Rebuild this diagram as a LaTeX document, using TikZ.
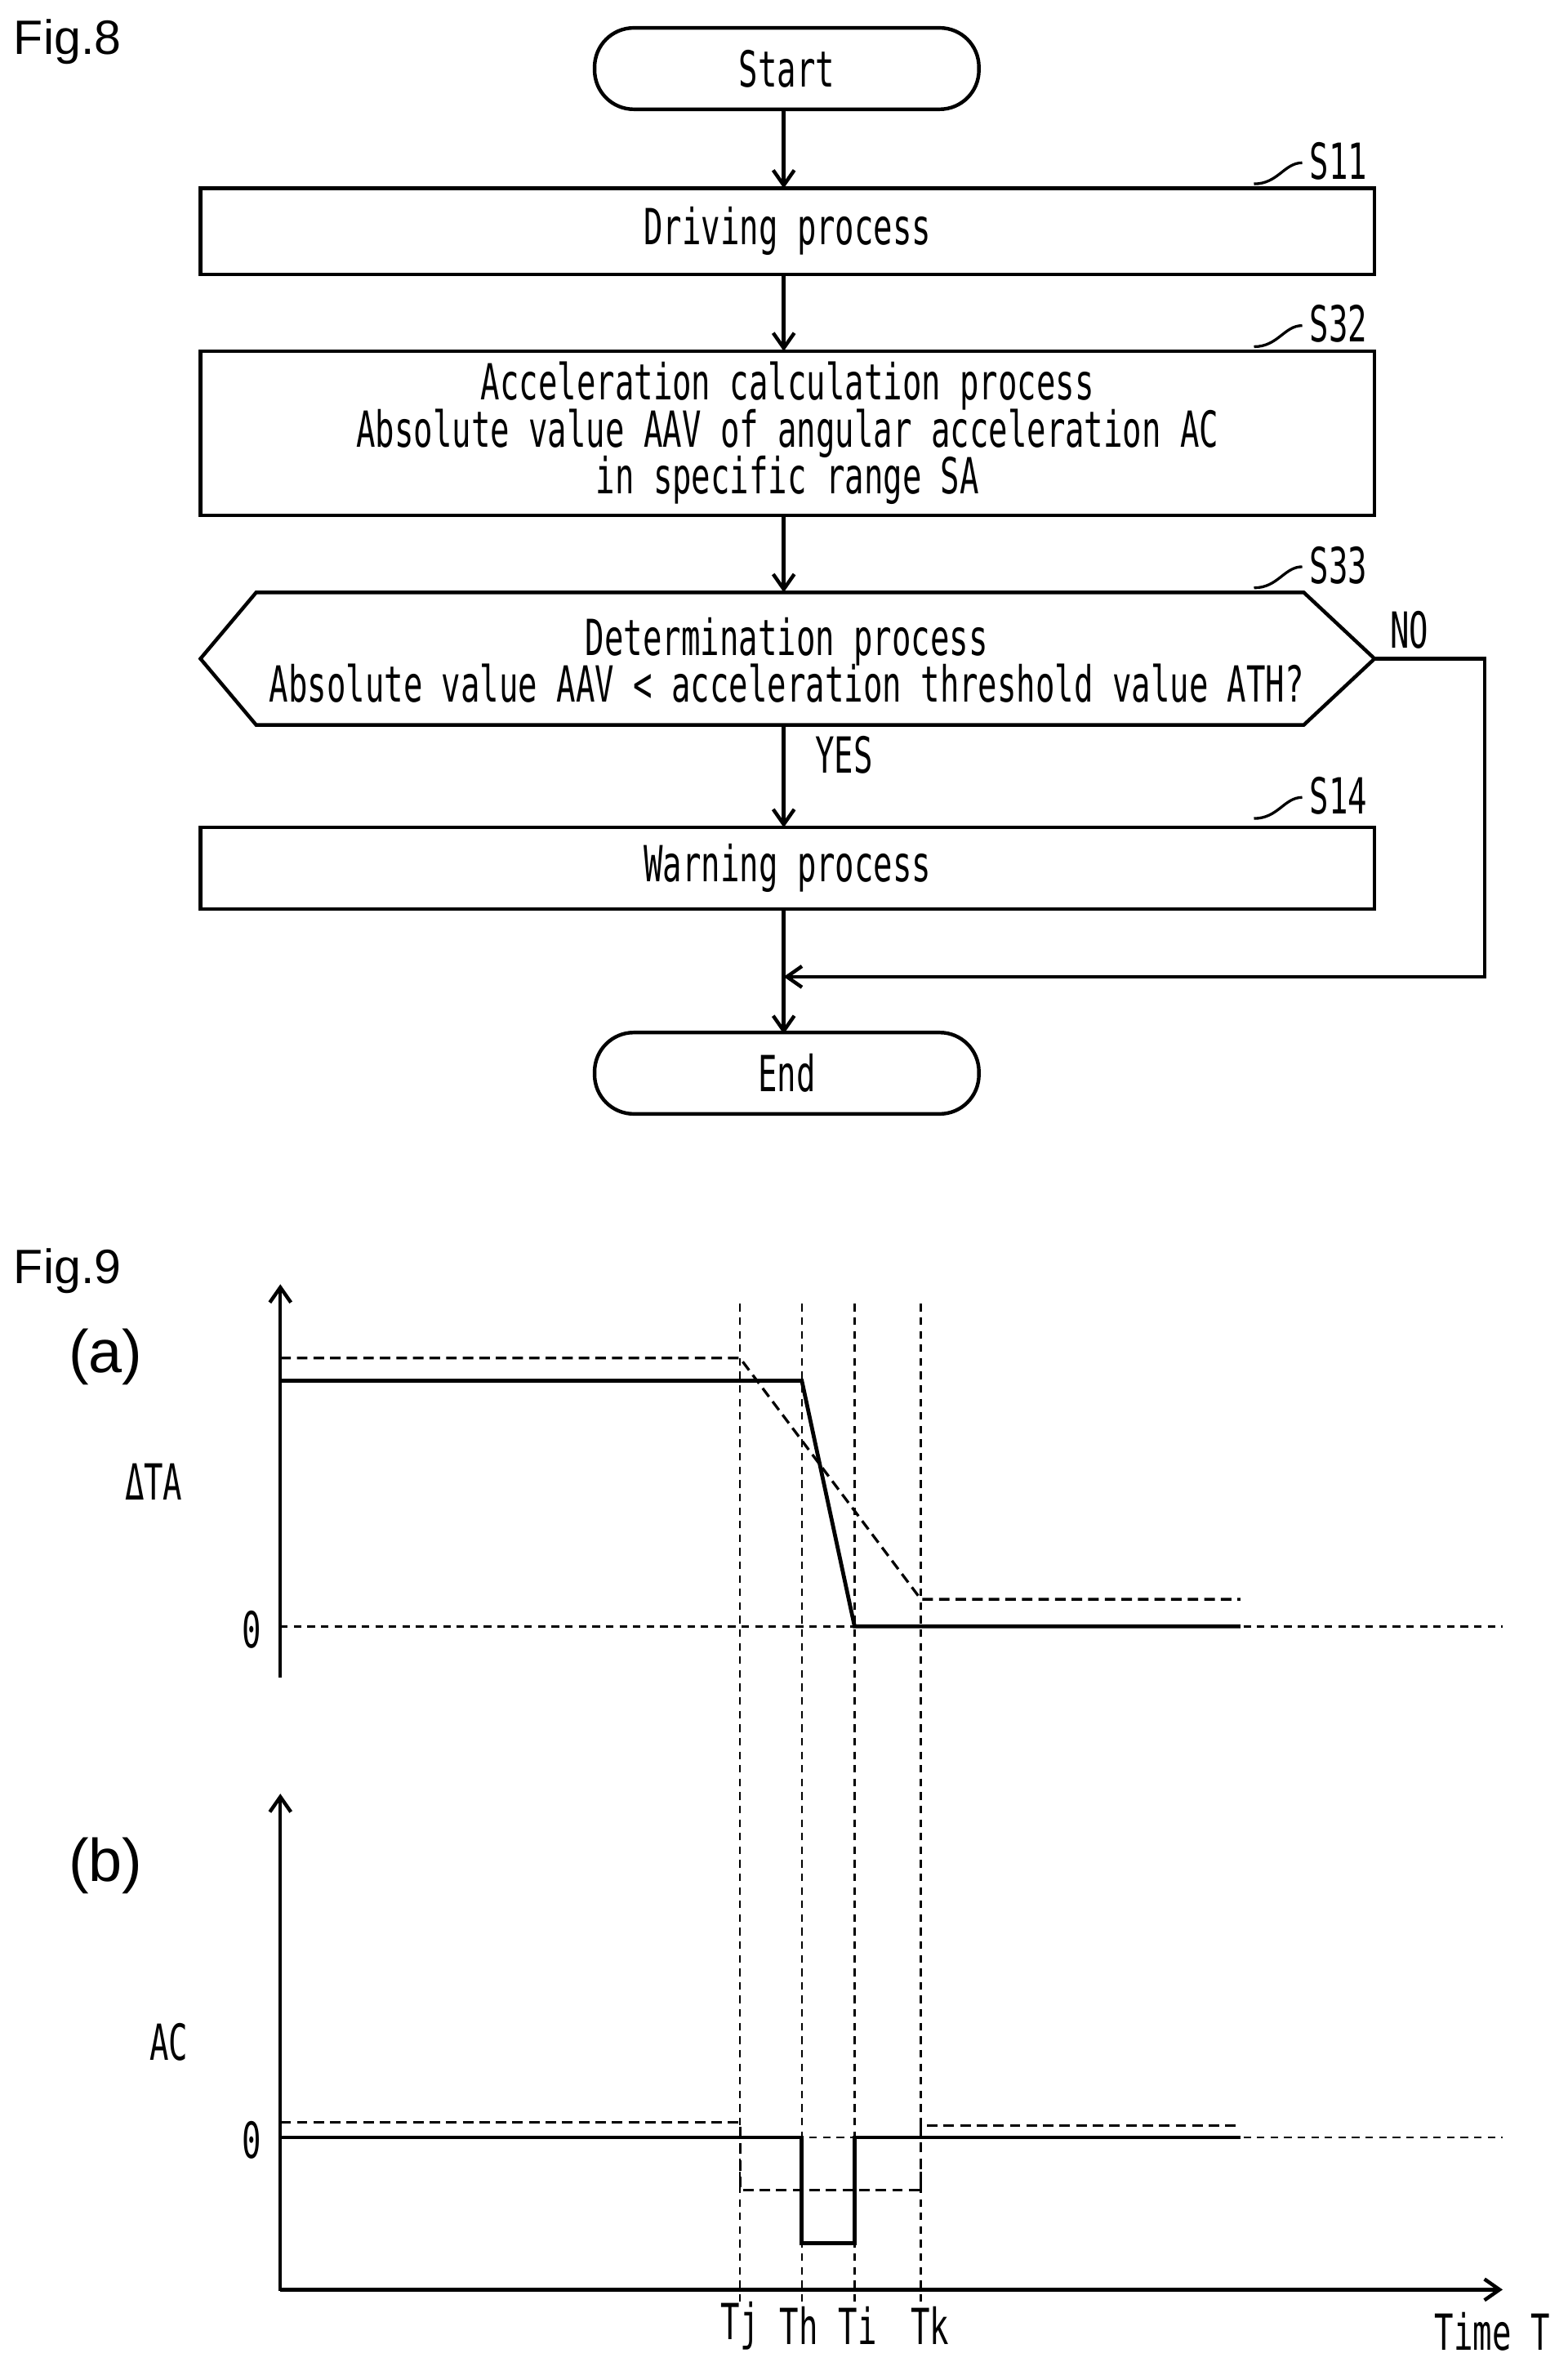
\documentclass[tikz,border=0pt]{standalone}
\usepackage{fontspec}
\setmainfont{Liberation Sans}
\newfontfamily\pfont{DejaVu Sans Mono}
\usetikzlibrary{arrows.meta}
\newcommand{\tx}[1]{\scalebox{0.64}[1]{\pfont\fontsize{33}{33}\selectfont #1}}
\begin{document}
\begin{tikzpicture}[x=1pt,y=-1pt,line width=2.4pt,
  box/.style={draw,minimum width=779pt,inner sep=0pt,align=center},
  term/.style={draw,rounded corners=26pt,minimum width=255pt,minimum height=54pt,inner sep=0pt},
  arr/.style={-{Straight Barb[length=10pt,width=14pt]}},
  lbl/.style={inner sep=0pt},
  dsh/.style={line width=1.3pt,dash pattern=on 5pt off 4pt},
  curve/.style={line width=1.8pt,dash pattern=on 7pt off 4pt},
  sol/.style={line width=2.6pt},
  lead/.style={line width=1.8pt}]
\useasboundingbox (0,0) rectangle (1040,1573);
\node[lbl,anchor=west,font=\fontsize{32}{32}\selectfont] (f8) at (8,28) {Fig.8};
\node[term] (start) at (522,45.5) {\tx{Start}};
\node[box,minimum height=57pt] (s11) at (522.5,153.5) {\tx{Driving process}};
\node[box,minimum height=109pt] (s32) at (522.5,287.5) {\tx{Acceleration calculation process}\\[-2pt]\tx{Absolute value AAV of angular acceleration AC}\\[-2pt]\tx{in specific range SA}};
\draw (133,437) -- (170,393) -- (865,393) -- (912,437) -- (865,481) -- (170,481) -- cycle;
\coordinate (s33t) at (520,393); \coordinate (s33b) at (520,481); \coordinate (s33r) at (912,437);
\node[lbl,align=center] (s33) at (522,438) {\tx{Determination process}\\[-2pt]\tx{Absolute value AAV < acceleration threshold value ATH?}};
\node[box,minimum height=54pt] (s14) at (522.5,576) {\tx{Warning process}};
\node[term] (end) at (522,712) {\tx{End}};
\draw[arr] (520,73) -- (520,125);
\draw[arr] (520,182) -- (520,233);
\draw[arr] (520,342) -- (s33t);
\draw[arr] (s33b) -- (520,549);
\node[lbl] (yes) at (560,501) {\tx{YES}};
\coordinate (mj) at (520,648);
\draw[arr] (520,603) -- (520,686);
\draw[arr] (s33r) -- (985,437) -- (985,648) -- (mj);
\node[lbl] (no) at (935,418) {\tx{NO}};
\foreach \y/\t in {107/S11,215/S32,375/S33,528/S14}{
  \node[lbl] (l\t) at (888,\y) {\tx{\t}};
  \draw[lead] (832,\y+15) .. controls (848,\y+15) and (852,\y+1) .. (864,\y+1);
}
% Fig 9
\node[lbl,anchor=west,font=\fontsize{32}{32}\selectfont] (f9) at (8,843) {Fig.9};
\node[lbl,font=\fontsize{40}{40}\selectfont] (a) at (70,900) {(a)};
\node[lbl,font=\fontsize{40}{40}\selectfont] (b) at (70,1238) {(b)};
\node[lbl] (dta) at (102,983) {\tx{ΔTA}};
\node[lbl] (ac) at (112,1355) {\tx{AC}};
\node[lbl] (z1) at (167,1081) {\tx{0}};
\node[lbl] (z2) at (167,1420) {\tx{0}};
\draw[arr] (186,1113) -- (186,852);
\draw[arr] (186,1520) -- (186,1190);
\draw[arr] (186,1519) -- (997,1519);
\draw[dsh] (186,1079) -- (997,1079);
\draw[dsh] (186,1418) -- (997,1418);
\foreach \x in {491,532,567,611} \draw[dsh] (\x,865) -- (\x,1530);
\draw[sol] (186,916) -- (532,916) -- (567,1079) -- (823,1079);
\draw[curve] (186,901) -- (491,901) -- (611,1061) -- (823,1061);
\draw[sol] (186,1418) -- (532,1418) -- (532,1488) -- (567,1488) -- (567,1418) -- (823,1418);
\draw[curve] (186,1408) -- (491,1408) -- (491,1453) -- (611,1453) -- (611,1410) -- (823,1410);
\node[lbl] (tj) at (491,1543) {\tx{Tj}};
\node[lbl] (th) at (530,1543) {\tx{Th}};
\node[lbl] (ti) at (569,1543) {\tx{Ti}};
\node[lbl] (tk) at (617,1543) {\tx{Tk}};
\node[lbl] (tt) at (990,1547) {\tx{Time T}};
\end{tikzpicture}
\end{document}
